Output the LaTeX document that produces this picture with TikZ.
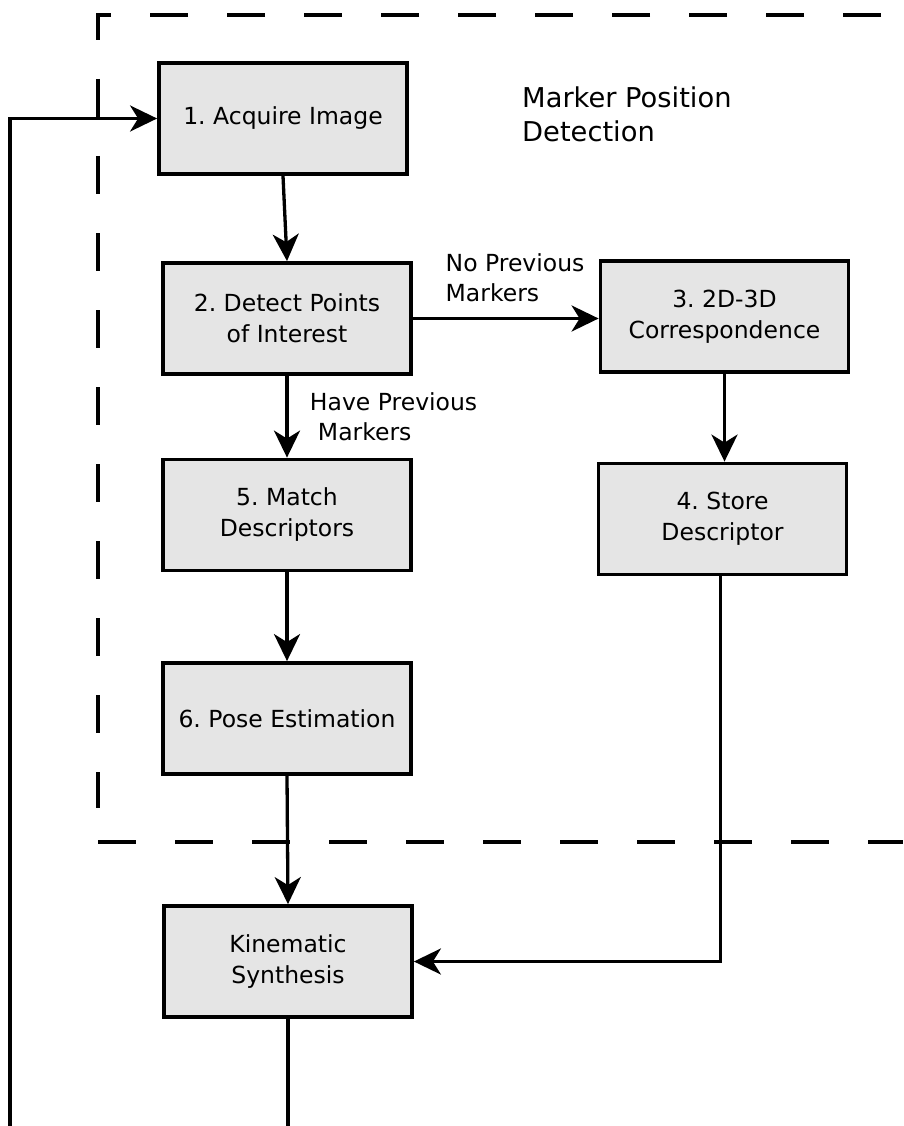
\documentclass[tikz,border=0pt]{standalone}
\usepackage{fontspec}
\setmainfont{DejaVu Sans}
\usepackage{tikz}
\usetikzlibrary{arrows.meta, positioning, calc}
\usepackage{xcolor}
\frenchspacing

\begin{document}
\begin{tikzpicture}[
        x=1pt, y=-1pt,
        block/.style={rectangle, draw=black, fill=black!10, line width=3.8pt, minimum height=111pt, minimum width=248pt, align=center, font=\fontsize{23.5}{31}\selectfont},
        line/.style={draw=black, line width=3.3pt, -{Stealth[length=27pt, width=26pt, inset=8pt]}},
        plain/.style={draw=black, line width=3.3pt},
        lbl/.style={font=\fontsize{23.5}{30}\selectfont, align=left},
        region/.style={draw=black, line width=4pt, dash pattern=on 38pt off 39pt}
    ]
        \useasboundingbox (0,0) rectangle (903,1126);

        % Marker position detection area (dashed)
        \draw [region, dash phase=55pt] (903,15) -- (98,15) -- (98,808);
        \draw [region] (98,842) -- (903,842);
        \node [lbl, anchor=west, inner sep=0pt, font=\fontsize{27.3}{34}\selectfont] (title) at (522,114) {Marker Position\\Detection};

        % Blocks
        \node [block] (acq) at (283,118.5) {1. Acquire Image};
        \node [block] (detect) at (287,318.5) {2. Detect Points\\of Interest};
        \node [block] (corr) at (724.5,316.5) {3. 2D-3D\\Correspondence};
        \node [block] (store) at (722.5,519) {4. Store\\Descriptor};
        \node [block] (match) at (287,515) {5. Match\\Descriptors};
        \node [block] (pose) at (287,718.5) {6. Pose Estimation};
        \node [block] (kin) at (288,961.5) {Kinematic\\Synthesis};

        % Loose ends at the edge of the picture
        \coordinate (loop) at (10,1126);
        \coordinate (out) at (288,1126);

        % Connections
        \draw [line] (acq.south) -- (detect.north);
        \draw [line] (detect.east) -- node[lbl, pos=0.55, above=12pt] {No Previous\\Markers} (detect.east -| corr.west);
        \draw [line] (detect.south) -- node[lbl, midway, anchor=west, xshift=18pt] {Have Previous\\\hspace{8pt}Markers} (match.north);
        \draw [line] (corr.south) -- (corr.south |- store.north);
        \draw [line] (match.south) -- (pose.north);
        \draw [line] (pose.south) -- (kin.north);
        \draw [line] ($(store.south)+(-2,0)$) |- (kin.east);
        \draw [plain] (kin.south) -- (out);
        \draw [line] (loop) |- (acq.west);
    \end{tikzpicture}
\end{document}
